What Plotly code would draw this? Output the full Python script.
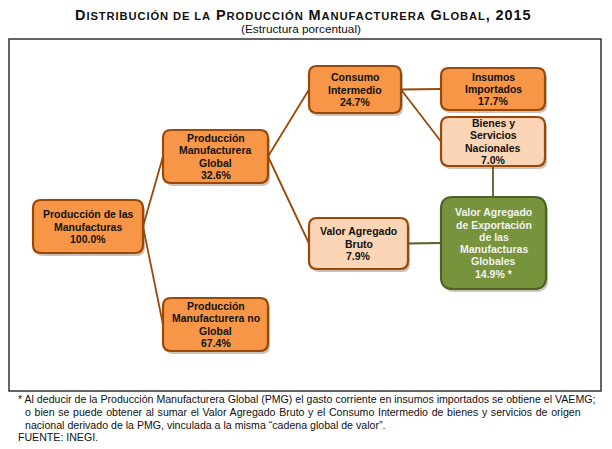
import plotly.graph_objects as go

# Datos del diagrama
node_labels = [
    "Producción de las<br>Manufacturas",
    "Producción<br>Manufacturera<br>Global",
    "Consumo<br>Intermedio",
    "Insumos<br>Importados",
    "Bienes y<br>Servicios<br>Nacionales",
    "Valor Agregado<br>Bruto",
    "Valor Agregado<br>de Exportación<br>de las<br>Manufacturas<br>Globales",
    "Producción<br>Manufacturera no<br>Global",
]
node_values = [100.0, 32.6, 24.7, 17.7, 7.0, 7.9, 14.9, 67.4]
node_marks = ["", "", "", "", "", "", " *", ""]
edges = [(0, 1), (0, 7), (1, 2), (1, 5), (2, 3), (2, 4), (4, 6), (5, 6)]

title_words = [("D", "ISTRIBUCIÓN DE LA"), ("P", "RODUCCIÓN"), ("M", "ANUFACTURERA"), ("G", "LOBAL")]
title_year = "2015"
subtitle = "(Estructura porcentual)"
footnote = [
    "* Al deducir de la Producción Manufacturera Global (PMG) el gasto corriente en insumos importados se obtiene el VAEMG;",
    "o bien se puede obtener al sumar el Valor Agregado Bruto y el Consumo Intermedio de bienes y servicios de origen",
    "nacional derivado de la PMG, vinculada a la misma “cadena global de valor”.",
    "FUENTE: INEGI.",
]

# Geometría (píxeles de la ventana) y estilos
boxes = [
    (33, 200, 143, 253),
    (163, 130, 268, 183),
    (309, 66, 401, 113),
    (441, 68, 545, 110),
    (441, 117, 545, 166),
    (309, 218, 408, 269),
    (441, 197, 546, 289),
    (163, 298, 268, 351),
]
ORANGE, LIGHT, GREEN = "#F79646", "#FBD5B5", "#77933C"
BROWN, DKGREEN = "#984807", "#4F6228"
fills = [ORANGE, ORANGE, ORANGE, ORANGE, LIGHT, LIGHT, GREEN, ORANGE]
borders = [BROWN] * 6 + [DKGREEN, BROWN]
radii = [8, 8, 8, 8, 8, 8, 12, 8]
FONT = "Liberation Sans, Arial, sans-serif"
OFF = 8  # margen del body de la página

fig = go.Figure()
shapes = []
annotations = []


def rounded(x0, y0, x1, y1, r):
    return (f"M {x0+r},{y0} L {x1-r},{y0} Q {x1},{y0} {x1},{y0+r} "
            f"L {x1},{y1-r} Q {x1},{y1} {x1-r},{y1} L {x0+r},{y1} "
            f"Q {x0},{y1} {x0},{y1-r} L {x0},{y0+r} Q {x0},{y0} {x0+r},{y0} Z")


# marco
shapes.append(dict(type="rect", x0=9, y0=39, x1=601, y1=391,
                   line=dict(color="#333333", width=1.5), fillcolor="white", layer="below"))

# conectores
for a, b in edges:
    ax0, ay0, ax1, ay1 = boxes[a]
    bx0, by0, bx1, by1 = boxes[b]
    if b == 6 and a == 4:
        xs, ys, xe, ye = (ax0 + ax1) / 2, ay1, (ax0 + ax1) / 2, by0
    else:
        xs, ys, xe, ye = ax1, (ay0 + ay1) / 2, bx0, (by0 + by1) / 2
    col = DKGREEN if b == 6 else BROWN
    shapes.append(dict(type="line", x0=xs, y0=ys, x1=xe, y1=ye,
                       line=dict(color=col, width=1.8), layer="below"))

# cajas
for i, (x0, y0, x1, y1) in enumerate(boxes):
    shapes.append(dict(type="path", path=rounded(x0 + 2, y0 + 3, x1 + 2, y1 + 3, radii[i]),
                       fillcolor="rgba(110,80,50,0.35)", line=dict(width=0)))
    shapes.append(dict(type="path", path=rounded(x0, y0, x1, y1, radii[i]),
                       fillcolor=fills[i], line=dict(color=borders[i], width=2.2)))
    lines = node_labels[i].split("<br>") + [f"{node_values[i]:.1f}%{node_marks[i]}"]
    step = 12.3
    cy = (y0 + y1) / 2 - step * (len(lines) - 1) / 2
    color = "#F2F2F2" if fills[i] == GREEN else "#111111"
    for k, t in enumerate(lines):
        annotations.append(dict(x=(x0 + x1) / 2, y=cy + k * step, text=f"<b>{t}</b>",
                                showarrow=False, xanchor="center", yanchor="middle",
                                font=dict(family=FONT, size=10.5, color=color)))

# título en versalitas
title = " ".join(f"{big}<span style='font-size:11.2px'>{small}</span>" for big, small in title_words)
annotations.append(dict(x=303, y=15, showarrow=False, xanchor="center", yanchor="middle",
                        text=f"<span style='letter-spacing:0.9px'><b>{title}, {title_year}</b></span>",
                        font=dict(family=FONT, size=14.5, color="#111111")))
annotations.append(dict(x=301, y=29, text=subtitle, showarrow=False,
                        xanchor="center", yanchor="middle",
                        font=dict(family=FONT, size=11.8, color="#111111")))

# nota al pie
foot_x = [16, 23, 23, 16]
foot_y = [399, 412, 425, 437]
foot_ws = [0, 0.7, 0, 0]
for t, fx, fy, ws in zip(footnote, foot_x, foot_y, foot_ws):
    annotations.append(dict(x=fx, y=fy, text=f"<span style='word-spacing:{ws}px'>{t}</span>",
                            showarrow=False, xanchor="left", yanchor="middle",
                            font=dict(family=FONT, size=10.6, color="#111111")))

fig.update_layout(
    width=612 - OFF, height=449 - OFF, margin=dict(l=0, r=0, t=0, b=0),
    paper_bgcolor="white", plot_bgcolor="white", showlegend=False,
    xaxis=dict(range=[OFF, 612], visible=False, fixedrange=True),
    yaxis=dict(range=[449, OFF], visible=False, fixedrange=True),
    shapes=shapes, annotations=annotations,
)
fig.write_html("out.html")
